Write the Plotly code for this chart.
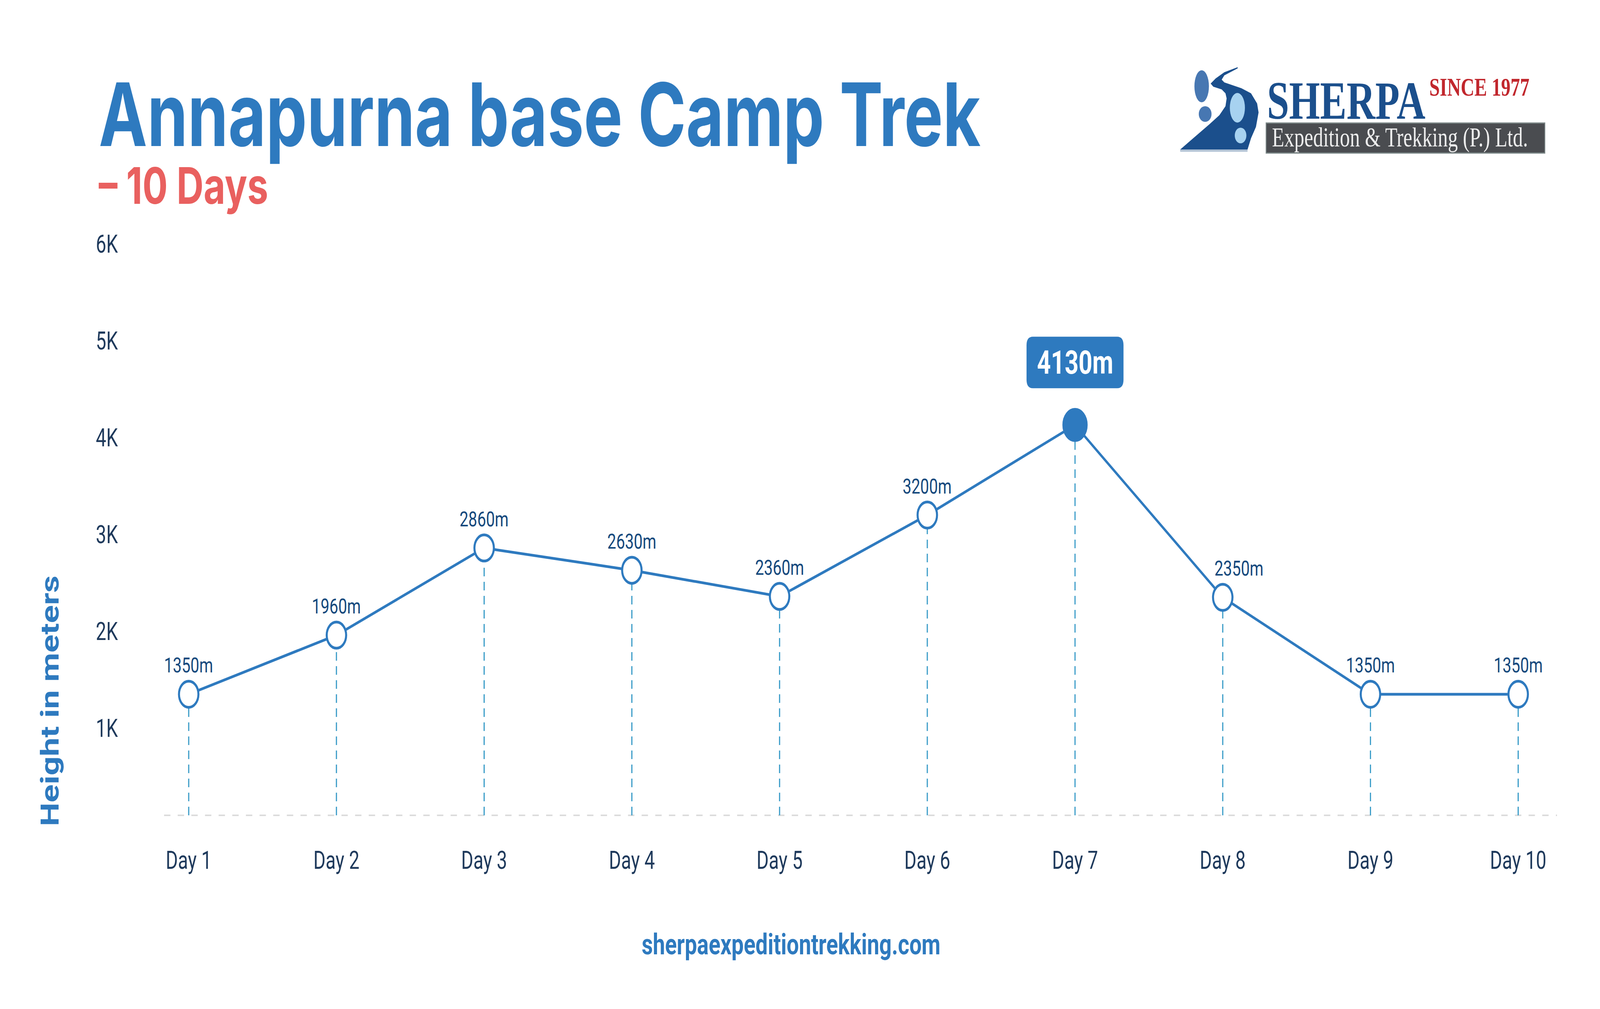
import plotly.graph_objects as go

# ---------------- data ----------------
days = ["Day 1", "Day 2", "Day 3", "Day 4", "Day 5",
        "Day 6", "Day 7", "Day 8", "Day 9", "Day 10"]
elevations_m = [1350, 1960, 2860, 2630, 2360, 3200, 4130, 2350, 1350, 1350]
y_tick_values = [1000, 2000, 3000, 4000, 5000, 6000]
y_tick_labels = ["1K", "2K", "3K", "4K", "5K", "6K"]

title_text = "Annapurna base Camp Trek"
subtitle_text = "\u2013 10 Days"
y_title_text = "Height in meters"
footer_text = "sherpaexpeditiontrekking.com"
logo_name = "SHERPA"
logo_since = "SINCE 1977"
logo_company = "Expedition &amp; Trekking (P.) Ltd."

# ---------------- style ----------------
BLUE = "#2E7ABF"
RED = "#E9605F"
NAVY = "#1F3A5C"
LABEL_NAVY = "#15497D"
DROP = "#3A9CC8"
GRID_GREY = "#DCDCDC"
LOGO_BLUE = "#1B4F8C"

W, H = 5511, 2584
ML, MR, MT, MB = 565, 148, 550, 496
PW, PH = W - ML - MR, H - MT - MB
Y_RANGE = [100, 6300]
X_RANGE = [-0.167, 9.263]
label_xshift = {7: 56}   # nudge the Day 8 label off the line


def px(x):
    return (x - ML) / PW


def py(y):
    return (H - MB - y) / PH


peak_idx = elevations_m.index(max(elevations_m))

fig = go.Figure()
fig.add_trace(go.Scatter(
    x=days, y=elevations_m, mode="lines+markers",
    line=dict(color=BLUE, width=7),
    marker=dict(
        size=[80 if i == peak_idx else 67 for i in range(len(days))],
        color=[BLUE if i == peak_idx else "white" for i in range(len(days))],
        line=dict(color=BLUE, width=7),
        opacity=1,
    ),
    hoverinfo="skip", showlegend=False,
))

shapes = []
annotations = []

# dashed baseline
shapes.append(dict(type="line", xref="paper", yref="paper", x0=0, x1=1, y0=0, y1=0,
                   line=dict(color=GRID_GREY, width=4, dash="22px,25px"), layer="below"))
# dashed drop lines from each point
for i, v in enumerate(elevations_m):
    shapes.append(dict(type="line", xref="x", yref="y", x0=i, x1=i, y0=Y_RANGE[0], y1=v,
                       line=dict(color=DROP, width=4, dash="22px,14px"), layer="below"))

# point labels
for i, v in enumerate(elevations_m):
    if i == peak_idx:
        continue
    annotations.append(dict(x=i, y=v, xref="x", yref="y", text=f"{v}m", showarrow=False,
                            yshift=74, xshift=label_xshift.get(i, 0), yanchor="middle",
                            font=dict(family="Roboto", size=54, color=LABEL_NAVY)))

# peak call-out (rounded box in pixel offsets anchored at the peak point)
bw, b0, b1, r = 167, 94, 226, 22
box_path = (f"M {-bw + r},{b0} L {bw - r},{b0} Q {bw},{b0} {bw},{b0 + r} "
            f"L {bw},{b1 - r} Q {bw},{b1} {bw - r},{b1} L {-bw + r},{b1} "
            f"Q {-bw},{b1} {-bw},{b1 - r} L {-bw},{b0 + r} Q {-bw},{b0} {-bw + r},{b0} Z")
shapes.append(dict(type="path", xref="x", yref="y", xsizemode="pixel", ysizemode="pixel",
                   xanchor=peak_idx, yanchor=elevations_m[peak_idx], path=box_path,
                   fillcolor=BLUE, line=dict(width=0), layer="above"))
annotations.append(dict(x=peak_idx, y=elevations_m[peak_idx], xref="x", yref="y",
                        text=f"{elevations_m[peak_idx]}m", showarrow=False,
                        yshift=160, yanchor="middle",
                        font=dict(family="Roboto", size=83, color="white", weight=700)))

# title + subtitle
title_block = (f'<span style="font-size:224px;color:{BLUE}">{title_text}</span><br>'
               f'<span style="font-size:129px;color:{RED}">{subtitle_text}</span>')
annotations.append(dict(x=px(338), y=py(155), xref="paper", yref="paper", text=title_block,
                        showarrow=False, xanchor="left", yanchor="top", align="left",
                        font=dict(family="Inter", size=114, color=BLUE, weight=700)))
# y-axis title
annotations.append(dict(x=px(172), y=py(1795), xref="paper", yref="paper", text=y_title_text,
                        showarrow=False, textangle=-90, xanchor="center", yanchor="middle",
                        font=dict(family="Roboto", size=86, color=BLUE, weight=700)))
# footer
annotations.append(dict(x=px(2725), y=py(2418), xref="paper", yref="paper", text=footer_text,
                        showarrow=False, xanchor="center", yanchor="middle",
                        font=dict(family="Roboto", size=75, color=BLUE, weight=700)))

# ---------------- logo ----------------
road_pts = [(4263, 172), (4217, 185), (4187, 201), (4170, 214), (4179, 222), (4208, 229),
            (4221, 239), (4225, 252), (4221, 272), (4200, 295), (4166, 318), (4065, 383),
            (4297, 383), (4309, 354), (4326, 325), (4335, 288), (4330, 265), (4309, 239),
            (4276, 226), (4217, 211), (4208, 204), (4217, 193), (4263, 175)]
road_path = "M " + " L ".join(f"{px(a):.5f},{py(b):.5f}" for a, b in road_pts) + " Z"
shapes.append(dict(type="path", xref="paper", yref="paper", path=road_path,
                   fillcolor=LOGO_BLUE, line=dict(width=0)))
shapes.append(dict(type="line", xref="paper", yref="paper", x0=px(4065), x1=px(4297),
                   y0=py(386), y1=py(386), line=dict(color="#AFC0D3", width=5)))
for (cx, cy, rx, ry, col) in [(4139, 221, 25, 41, "#4777B2"), (4151, 292, 22, 20, "#4777B2"),
                              (4262, 276, 26, 38, "#A7D2F0"), (4273, 347, 20, 20, "#A7D2F0")]:
    shapes.append(dict(type="circle", xref="paper", yref="paper", x0=px(cx - rx), x1=px(cx + rx),
                       y0=py(cy + ry), y1=py(cy - ry), fillcolor=col, line=dict(width=0)))
shapes.append(dict(type="rect", xref="paper", yref="paper", x0=px(4361), x1=px(5321),
                   y0=py(392), y1=py(315), fillcolor="#4A4C50",
                   line=dict(color="#7C8888", width=3)))
logo_block = (f'<span style="font-size:137px;color:{LOGO_BLUE};font-weight:bold">{logo_name}</span><br>'
              f'<span style="font-size:69px;color:#EDEDED;font-weight:normal">'
              f'\u00a0{logo_company}</span>')
annotations.append(dict(x=px(4362), y=py(180), xref="paper", yref="paper", text=logo_block,
                        showarrow=False, xanchor="left", yanchor="top", align="left",
                        font=dict(family="Liberation Serif", size=55, color=LOGO_BLUE)))
annotations.append(dict(x=px(4921), y=py(223), xref="paper", yref="paper", text=logo_since,
                        showarrow=False, xanchor="left", yanchor="middle",
                        font=dict(family="Liberation Serif", size=65, color="#C1272D", weight=700)))

fig.update_layout(
    width=W, height=H,
    margin=dict(l=ML, r=MR, t=MT, b=MB, autoexpand=False),
    paper_bgcolor="white", plot_bgcolor="white",
    shapes=shapes, annotations=annotations,
    xaxis=dict(type="category", range=X_RANGE, showgrid=False, zeroline=False, showline=False,
               ticks="", tickfont=dict(family="Roboto", size=64, color=NAVY),
               ticklabelstandoff=72, automargin=False, fixedrange=True),
    yaxis=dict(range=Y_RANGE, tickvals=y_tick_values, ticktext=y_tick_labels,
               showgrid=False, zeroline=False, showline=False, ticks="",
               tickfont=dict(family="Roboto", size=64, color=NAVY),
               ticklabelstandoff=158, automargin=False, fixedrange=True),
    showlegend=False,
)

# Fit the fixed 5511x2584 figure to the actual browser viewport
# (no-op when the viewport really is 5511x2584).
fit_script = (
    "(function(){var gd=document.getElementById('{plot_id}');"
    "var de=document.documentElement, b=document.body;"
    "de.style.margin='0';b.style.margin='0';de.style.overflow='hidden';b.style.overflow='hidden';"
    "var sx=window.innerWidth/%d, sy=window.innerHeight/%d;"
    "if(Math.abs(sx-1)>0.001||Math.abs(sy-1)>0.001){"
    "gd.style.transform='scale('+sx+','+sy+')';gd.style.transformOrigin='0 0';}"
    "var wrap=gd.parentElement; wrap.style.width=(%d*sx)+'px'; wrap.style.height=(%d*sy)+'px';"
    "wrap.style.overflow='hidden';"
    "})();" % (W, H, W, H)
)
fig.write_html("out.html", config={"displayModeBar": False}, post_script=fit_script)
